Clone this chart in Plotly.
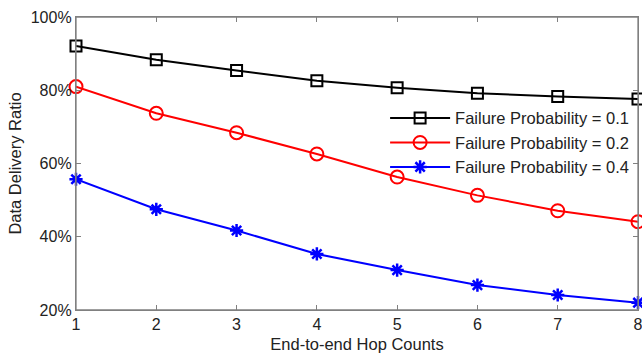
import plotly.graph_objects as go

hops = [1, 2, 3, 4, 5, 6, 7, 8]
p01 = [92.1, 88.3, 85.4, 82.6, 80.7, 79.2, 78.3, 77.6]
p02 = [81.0, 73.7, 68.4, 62.6, 56.3, 51.3, 47.1, 44.1]
p04 = [55.7, 47.5, 41.7, 35.3, 30.9, 26.8, 24.1, 22.0]
names = ["Failure Probability = 0.1", "Failure Probability = 0.2", "Failure Probability = 0.4"]
y_ticks = [20, 40, 60, 80, 100]
y_labels = ["20%", "40%", "60%", "80%", "100%"]

FONT = "Liberation Sans, Arial"

fig = go.Figure()
fig.add_trace(go.Scatter(x=hops, y=p01, name=names[0], legendgroup="a", mode="lines+markers", cliponaxis=False,
                         line=dict(color="black", width=2),
                         marker=dict(symbol="square-open", size=11, color="black", line=dict(width=2))))
fig.add_trace(go.Scatter(x=hops, y=p02, name=names[1], legendgroup="b", mode="lines+markers", cliponaxis=False,
                         line=dict(color="#ff0000", width=2),
                         marker=dict(symbol="circle-open", size=13, color="#ff0000", line=dict(width=2))))
fig.add_trace(go.Scatter(x=hops, y=p04, name=names[2], legendgroup="c", mode="lines+markers", cliponaxis=False,
                         line=dict(color="#0000ff", width=2),
                         marker=dict(symbol="asterisk-open", size=11, color="#0000ff", line=dict(width=2.5, color="#0000ff"))))

axis_common = dict(showline=True, linecolor="#808080", linewidth=1.3, mirror="allticks",
                   ticks="inside", tickcolor="#808080", ticklen=5, showgrid=False,
                   zeroline=False, automargin=False, ticklabeloverflow="allow",
                   tickfont=dict(family=FONT, size=16, color="#222"))
fig.update_xaxes(range=[1, 8], tickvals=hops,
                 title=dict(text="End-to-end Hop Counts", font=dict(family=FONT, size=16.5, color="#222"), standoff=6),
                 **axis_common)
fig.update_yaxes(range=[20, 100], tickvals=y_ticks, ticktext=y_labels,
                 title=dict(text="Data Delivery Ratio", font=dict(family=FONT, size=16.5, color="#222"), standoff=4),
                 **axis_common)
fig.add_shape(type="rect", xref="paper", yref="paper", x0=0, x1=1, y0=0, y1=1,
              line=dict(color="#808080", width=1.3), fillcolor="rgba(0,0,0,0)", layer="above")
fig.update_layout(width=642, height=358, margin=dict(l=76, r=4, t=17, b=48),
                  paper_bgcolor="white", plot_bgcolor="white",
                  legend=dict(x=0.55, y=0.714, xanchor="left", yanchor="top", bgcolor="rgba(0,0,0,0)",
                              font=dict(family=FONT, size=16.5, color="#222"),
                              itemwidth=60, traceorder="grouped", tracegroupgap=0),
                  showlegend=True)
fig.write_html("out.html", config={"displayModeBar": False},
               post_script="document.body.style.margin='0';document.body.style.overflow='hidden';")
